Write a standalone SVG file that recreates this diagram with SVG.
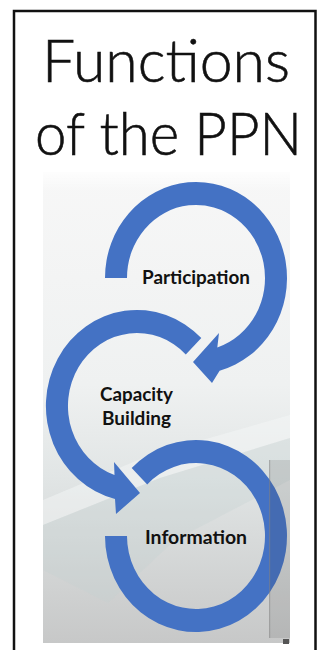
<svg xmlns="http://www.w3.org/2000/svg" width="326" height="650" viewBox="0 0 326 650">
  <style>
    .title { font-family: Lato, "Liberation Sans", sans-serif; font-weight: 300; font-size: 60px; fill: #111; stroke: #111; stroke-width: 0.6; }
    .lbl { font-family: Lato, "Liberation Sans", sans-serif; font-weight: 700; font-size: 18px; fill: #111; text-anchor: middle; }
    .arc { fill: #4472c4; }
  </style>
  <defs>
    <linearGradient id="bg" x1="0" y1="0" x2="0" y2="1">
      <stop offset="0" stop-color="#f7f7f7"/>
      <stop offset="0.45" stop-color="#eff1f1"/>
      <stop offset="0.65" stop-color="#e1e5e5"/>
      <stop offset="1" stop-color="#c7c8c8"/>
    </linearGradient>
    <linearGradient id="fadeTop" x1="0" y1="0" x2="0" y2="1">
      <stop offset="0" stop-color="#ffffff" stop-opacity="1"/>
      <stop offset="1" stop-color="#ffffff" stop-opacity="0"/>
    </linearGradient>
  </defs>
  <rect x="0" y="0" width="326" height="650" fill="#ffffff"/>
  <rect x="14" y="11" width="301.5" height="660" fill="none" stroke="#111" stroke-width="2.5"/>
  <g id="title">
    <text class="title" x="42" y="82" textLength="248" lengthAdjust="spacingAndGlyphs">Functions</text>
    <text class="title" x="35" y="155" textLength="267" lengthAdjust="spacingAndGlyphs">of the PPN</text>
  </g>
  <g id="backdrop">
    <rect x="43" y="172" width="247" height="471" fill="url(#bg)"/>
    <rect x="43" y="172" width="247" height="20" fill="url(#fadeTop)" opacity="0.8"/>
    <polygon points="43,500 150,455 290,415 290,438 160,478 43,525" fill="#f7f9f9" opacity="0.45"/>
    <polygon points="43,525 160,478 290,438 290,480 175,540 108,603 43,570" fill="#c3d2d2" opacity="0.3"/>
  </g>
  <g id="connectors"/>
  <g id="participation">
    <path class="arc" d="M105,278 A91,96 0 1 1 219.6,370.7 L212,383 L193,362 L219,333 L217.3,347.4 A69,73 0 1 0 127,278 Z"/>
    <text class="lbl" x="196" y="284" textLength="108" lengthAdjust="spacingAndGlyphs">Participation</text>
  </g>
  <g id="capacity-building">
    <path class="arc" d="M201.3,338.1 A91,96 0 1 0 115,499.1 L116,514 L140,493 L114,462 L114.5,475 A69,73 0 1 1 185.8,354.4 Z"/>
    <text class="lbl" x="136.5" y="401" textLength="73" lengthAdjust="spacingAndGlyphs">Capacity</text>
    <text class="lbl" x="136.5" y="425" textLength="69" lengthAdjust="spacingAndGlyphs">Building</text>
  </g>
  <g id="information">
    <path class="arc" d="M131.7,468.1 A91,96 0 1 1 105,536 L127,536 A69,73 0 1 0 147.2,484.4 Z"/>
    <text class="lbl" x="196" y="544" textLength="102" lengthAdjust="spacingAndGlyphs">Information</text>
  </g>
  <g id="side-strip">
    <rect x="269" y="460" width="21" height="178" fill="#444" opacity="0.14"/>
    <rect x="269" y="460" width="1.2" height="178" fill="#888" opacity="0.5"/>
    <rect x="283" y="639" width="6" height="5" fill="#555"/>
  </g>
</svg>
